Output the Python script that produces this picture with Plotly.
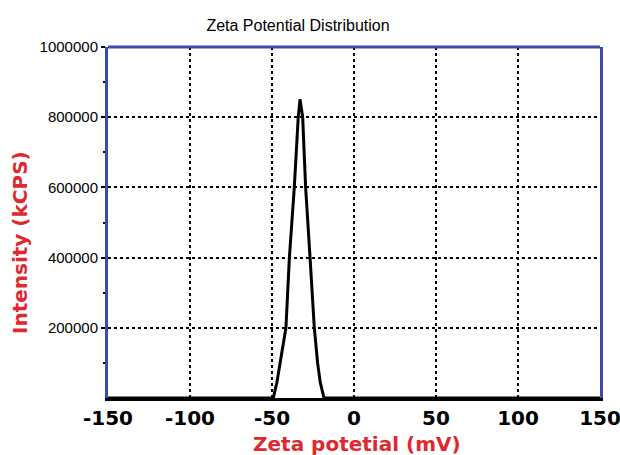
import plotly.graph_objects as go

# Zeta potential distribution (mV vs intensity)
zeta_mv = [-150, -100, -60, -49.2, -47.0, -44.5, -41.5, -39.4, -36.4, -34.0, -32.9,
           -31.3, -29.5, -26.8, -24.2, -22.2, -20.6, -18.3, 0, 50, 100, 150]
intensity = [0, 0, 0, 0, 45000, 110000, 200000, 400000, 600000, 800000, 851000,
             800000, 600000, 400000, 200000, 100000, 45000, 0, 0, 0, 0, 0]

x_ticks = [-150, -100, -50, 0, 50, 100, 150]
y_ticks = [200000, 400000, 600000, 800000, 1000000]
y_minor = [100000, 300000, 500000, 700000, 900000]

RED = "#e0282f"
BLUE = "#3c4aa8"

fig = go.Figure()
fig.add_trace(go.Scatter(x=zeta_mv, y=intensity, mode="lines",
                         line=dict(color="black", width=3), showlegend=False))

fig.update_layout(
    width=620, height=455,
    margin=dict(l=108, r=20, t=47, b=57, autoexpand=False),
    paper_bgcolor="white", plot_bgcolor="white",
    title=dict(text="Zeta Potential Distribution", x=298 / 620, xanchor="center",
               y=1 - 25 / 455, yanchor="middle",
               font=dict(family="Liberation Sans, Arial", size=16, color="black")),
)

# bottom axis line is black; the other three sides of the frame are blue
fig.update_xaxes(
    range=[-150, 150], tickvals=x_ticks, ticktext=[str(v) for v in x_ticks],
    showgrid=True, gridcolor="black", griddash="dot", gridwidth=2,
    showline=True, linecolor="black", linewidth=3, mirror=False,
    ticks="", zeroline=False, ticklabelstandoff=0, ticklabeloverflow="allow",
    automargin=False,
    tickfont=dict(family="DejaVu Sans", size=20, color="black", weight="bold"),
)
fig.update_yaxes(
    range=[0, 1000000], tickvals=y_ticks, ticktext=[str(v) for v in y_ticks],
    showgrid=True, gridcolor="black", griddash="dot", gridwidth=2,
    showline=True, linecolor=BLUE, linewidth=3, mirror=True,
    ticks="outside", ticklen=4, tickcolor="black", tickwidth=1.5,
    minor=dict(tickvals=y_minor, ticks="outside",
               ticklen=2, tickcolor="black", tickwidth=1.5, showgrid=False),
    zeroline=False, automargin=False,
    tickfont=dict(family="Liberation Sans", size=15, color="black"),
)

fig.add_shape(type="line", xref="paper", yref="paper", x0=0, x1=1, y0=1, y1=1,
              line=dict(color=BLUE, width=3))

fig.add_annotation(text="Zeta potetial (mV)", xref="paper", yref="paper",
                   x=(357 - 108) / 492, y=(398 - 444) / 351,
                   xanchor="center", yanchor="middle", showarrow=False,
                   font=dict(family="DejaVu Sans", size=20, color=RED, weight="bold"))
fig.add_annotation(text="Intensity (kCPS)", xref="paper", yref="paper",
                   x=(20 - 108) / 492, y=(398 - 243) / 351, textangle=-90,
                   xanchor="center", yanchor="middle", showarrow=False,
                   font=dict(family="DejaVu Sans", size=20, color=RED, weight="bold"))

fig.write_html("out.html")
